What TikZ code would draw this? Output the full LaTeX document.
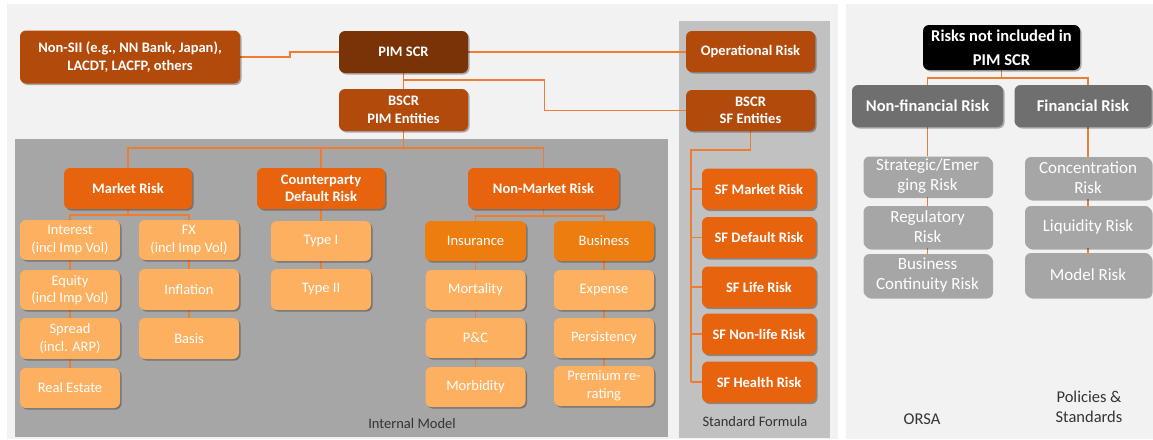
\documentclass[tikz,border=0pt]{standalone}
\usepackage{fontspec}
\setmainfont{Carlito}
\usetikzlibrary{shadows,calc}
\pgfdeclarelayer{panel}
\pgfdeclarelayer{wire}
\pgfsetlayers{panel,wire,main}

\definecolor{pagebg}{HTML}{F2F2F2}
\definecolor{impanel}{HTML}{A6A6A6}
\definecolor{sfpanel}{HTML}{C1C1C1}
\definecolor{topbrown}{HTML}{7A3306}
\definecolor{rust}{HTML}{B24A0C}
\definecolor{riskorange}{HTML}{E8630E}
\definecolor{midorange}{HTML}{EE7D10}
\definecolor{lightorange}{HTML}{FDB05F}
\definecolor{wireorange}{HTML}{EE7D31}
\definecolor{darkgray}{HTML}{6F6F6F}
\definecolor{lightgray}{HTML}{A6A6A6}
\definecolor{labeltext}{HTML}{333333}

\tikzset{
  box/.style={rounded corners=6pt, align=center, inner sep=0pt,
    text=white, font=\fontsize{14.5}{17.5}\selectfont,
    drop shadow={shadow xshift=1.5pt, shadow yshift=-1.5pt, opacity=0.3, fill=black}},
  bbox/.style={box, font=\fontsize{14.5}{17.5}\selectfont\bfseries},
  sz/.style n args={2}{minimum width=#1pt, minimum height=#2pt},
  toplevel/.style={bbox, fill=topbrown},
  rustbox/.style={bbox, fill=rust},
  riskbox/.style={bbox, fill=riskorange},
  groupbox/.style={box, fill=midorange},
  leafbox/.style={box, fill=lightorange},
  blackbox/.style={bbox, fill=black, font=\fontsize{16.5}{24}\selectfont\bfseries},
  catbox/.style={bbox, fill=darkgray, font=\fontsize{16.5}{20}\selectfont\bfseries},
  greybox/.style={box, fill=lightgray, font=\fontsize{17}{20}\selectfont},
  conn/.style={draw=wireorange, line width=1.5pt},
  caption/.style={text=labeltext, font=\fontsize{14.5}{19}\selectfont, align=center},
  rcaption/.style={text=labeltext, font=\fontsize{16.5}{20}\selectfont, align=center}
}

\begin{document}
\begin{tikzpicture}[x=1pt, y=-1pt]
\useasboundingbox (0,0) rectangle (1153,439);

\begin{pgfonlayer}{panel}
  \fill[white] (0,0) rectangle (1153,439);
  \fill[pagebg] (7,4) rectangle (838,439);
  \fill[pagebg] (846,4) rectangle (1153,439);
  \fill[impanel] (15,139) rectangle (668,437);
  \fill[sfpanel] (679,21) rectangle (830,438);
\end{pgfonlayer}

% top level
\node[rustbox, sz={220}{53}] (nonsii) at (130,57) {Non-SII (e.g., NN Bank, Japan),\\LACDT, LACFP, others};
\node[toplevel, sz={129}{42}] (pim) at (403.5,52) {PIM SCR};
\node[rustbox, sz={129}{42}] (bscrpim) at (403.5,110) {BSCR\\PIM Entities};
\node[rustbox, sz={129}{41}] (oprisk) at (750.5,51.5) {Operational Risk};
\node[rustbox, sz={129}{41}] (bscrsf) at (750.5,110.5) {BSCR\\SF Entities};

% internal model risk modules
\node[riskbox, sz={128}{41}] (market) at (128,188.5) {Market Risk};
\node[riskbox, sz={128}{41}] (cpty) at (321,188.5) {Counterparty\\Default Risk};
\node[riskbox, sz={151}{41}] (nonmkt) at (543.5,188.5) {Non-Market Risk};

\node[leafbox, sz={100}{40}] (interest) at (70,240) {Interest\\(incl Imp Vol)};
\node[leafbox, sz={100}{40}] (equity) at (70,290) {Equity\\(incl Imp Vol)};
\node[leafbox, sz={100}{41}] (spread) at (70,338.5) {Spread\\(incl. ARP)};
\node[leafbox, sz={100}{40}] (realest) at (70,388) {Real Estate};
\node[leafbox, sz={100}{40}] (fx) at (189,240) {FX\\(incl Imp Vol)};
\node[leafbox, sz={100}{41}] (inflation) at (189,289.5) {Inflation};
\node[leafbox, sz={100}{41}] (basis) at (189,338.5) {Basis};

\node[leafbox, sz={100}{40}] (typeone) at (321,241) {Type I};
\node[leafbox, sz={100}{41}] (typetwo) at (321,289.5) {Type II};

\node[groupbox, sz={101}{40}] (insurance) at (475.5,241) {Insurance};
\node[groupbox, sz={100}{40}] (business) at (604,241) {Business};
\node[leafbox, sz={100}{40}] (mortality) at (475.5,290) {Mortality};
\node[leafbox, sz={100}{40}] (pandc) at (475.5,338) {P\&C};
\node[leafbox, sz={100}{40}] (morbidity) at (475.5,387) {Morbidity};
\node[leafbox, sz={100}{40}] (expense) at (604,290) {Expense};
\node[leafbox, sz={100}{40}] (persist) at (604,338) {Persistency};
\node[leafbox, sz={100}{40}] (premium) at (604,386) {Premium re-\\rating};

% standard formula modules
\node[riskbox, sz={114}{41}] (sfmkt) at (759,189) {SF Market Risk};
\node[riskbox, sz={114}{41}] (sfdef) at (759,237.5) {SF Default Risk};
\node[riskbox, sz={114}{41}] (sflife) at (759,287) {SF Life Risk};
\node[riskbox, sz={114}{41}] (sfnonlife) at (759,334) {SF Non-life Risk};
\node[riskbox, sz={114}{41}] (sfhealth) at (759,382) {SF Health Risk};
\coordinate (sftrunk) at (691,150);

% risks outside the PIM SCR
\node[blackbox, sz={157}{45}] (notinc) at (1001.5,47.5) {Risks not included in\\PIM SCR};
\node[catbox, sz={151}{42}] (nonfin) at (927.5,106) {Non-financial Risk};
\node[catbox, sz={137}{42}] (fin) at (1083,106) {Financial Risk};
\node[greybox, sz={128}{40}] (strategic) at (927.5,176.5) {Strategic/Emer\\ging Risk};
\node[greybox, sz={128}{42}] (regulatory) at (927.5,227) {Regulatory\\Risk};
\node[greybox, sz={128}{43}] (continuity) at (927.5,275.5) {Business\\Continuity Risk};
\node[greybox, sz={126}{42}] (concentration) at (1088,178) {Concentration\\Risk};
\node[greybox, sz={126}{42}] (liquidity) at (1088,227) {Liquidity Risk};
\node[greybox, sz={126}{44}] (modelrisk) at (1088,275) {Model Risk};

% captions
\node[caption] (imcap) at (412,424) {Internal Model};
\node[caption] (sfcap) at (755,422) {Standard Formula};
\node[rcaption] (orsacap) at (922,419) {ORSA};
\node[rcaption] (polcap) at (1089,407) {Policies \&\\Standards};

\begin{pgfonlayer}{wire}
  \draw[conn] (nonsii.east) -- ++(50,0) |- (pim.west);
  \draw[conn] (pim.east) -- (pim.east -| oprisk.west);
  \draw[conn] (pim.south) -- (bscrpim.north);
  \draw[conn] (pim.south) ++(0,7) -- ++(141,0) |- (bscrsf.west);

  \draw[conn] (bscrpim.south) -- ++(0,17) -| (market.north);
  \draw[conn] (bscrpim.south) ++(0,17) -| (nonmkt.north);
  \draw[conn] (bscrpim.south) ++(0,17) -| (cpty.north);

  \draw[conn] (market.south) -- ++(0,6) -| (interest.north);
  \draw[conn] (market.south) ++(0,6) -| (fx.north);
  \draw[conn] (interest) -- (equity) -- (spread) -- (realest);
  \draw[conn] (fx) -- (inflation) -- (basis);

  \draw[conn] (cpty) -- (typeone) -- (typetwo);

  \draw[conn] (nonmkt.south) -- ++(0,7) -| (insurance.north);
  \draw[conn] (nonmkt.south) ++(0,7) -| (business.north);
  \draw[conn] (insurance) -- (mortality) -- (pandc) -- (morbidity);
  \draw[conn] (business) -- (expense) -- (persist) -- (premium);

  \draw[conn] (bscrsf.south) |- (sftrunk) -- (sftrunk |- sfhealth.west);
  \foreach \n in {sfmkt,sfdef,sflife,sfnonlife,sfhealth}
    \draw[conn] (sftrunk |- \n.west) -- (\n.west);

  \draw[conn] (notinc.south) -- ++(0,8) -| (nonfin.north);
  \draw[conn] (notinc.south) ++(0,8) -| ($(fin.north)+(5,0)$);
  \draw[conn] (nonfin) -- (strategic) -- (regulatory) -- (continuity);
  \draw[conn] (concentration.north |- fin.south) -- (concentration) -- (liquidity) -- (modelrisk);
\end{pgfonlayer}
\end{tikzpicture}
\end{document}
